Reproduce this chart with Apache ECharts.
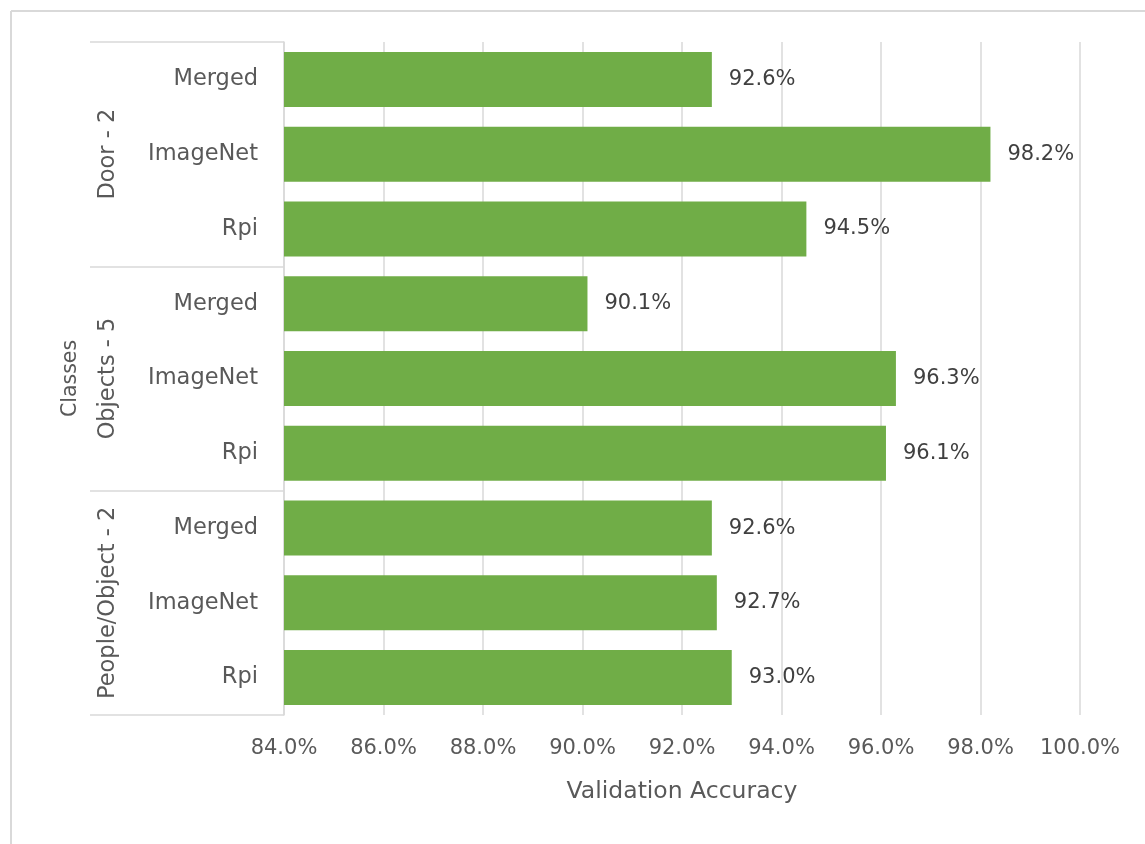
<!DOCTYPE html>
<html>
<head>
<meta charset="utf-8">
<script src="https://cdn.jsdelivr.net/npm/echarts@6/dist/echarts.min.js"></script>
<style>
  html, body { margin: 0; padding: 0; background: #fff; }
  #chart { width: 1145px; height: 844px; }
</style>
</head>
<body>
<div id="chart"></div>
<script>
// categories, top to bottom
const groups = ['Door - 2', 'Objects - 5', 'People/Object - 2'];
const models = ['Merged', 'ImageNet', 'Rpi',
                'Merged', 'ImageNet', 'Rpi',
                'Merged', 'ImageNet', 'Rpi'];
// validation accuracy, percent
const accuracy = [92.6, 98.2, 94.5,
                  90.1, 96.3, 96.1,
                  92.6, 92.7, 93.0];
const xTicks = { min: 84, max: 100, step: 2 };

const font = 'DejaVu Sans';
const grey = '#595959';
const lineGrey = '#d9d9d9';

function getOption() {
    let option = {
        animation: false,
        textStyle: { fontFamily: font },
        grid: { left: 284, right: 65, top: 42, bottom: 129 },
        xAxis: {
            type: 'value',
            min: xTicks.min,
            max: xTicks.max,
            interval: xTicks.step,
            name: 'Validation Accuracy',
            nameLocation: 'middle',
            nameGap: 65,
            nameTextStyle: { fontSize: 23.5, color: grey, fontFamily: font },
            axisLine: { show: false },
            axisTick: { show: false },
            splitLine: { lineStyle: { color: lineGrey, width: 1.5 } },
            axisLabel: {
                fontSize: 21,
                color: grey,
                margin: 23,
                fontFamily: font,
                formatter: v => v.toFixed(1) + '%'
            }
        },
        yAxis: [{
            type: 'category',
            data: models,
            inverse: true,
            axisLine: { show: false },
            axisTick: { show: false },
            axisLabel: { fontSize: 22.5, color: grey, margin: 26, fontFamily: font }
        }, {
            type: 'category',
            data: groups,
            inverse: true,
            position: 'left',
            name: 'Classes',
            nameLocation: 'middle',
            nameGap: 203,
            nameRotate: 90,
            nameTextStyle: { fontSize: 20.5, color: grey, fontFamily: font },
            axisLine: { show: true, lineStyle: { color: lineGrey, width: 1.5 } },
            axisTick: { show: true, length: 194, interval: 0, lineStyle: { color: lineGrey, width: 1.5 } },
            axisLabel: { fontSize: 22.5, color: grey, rotate: 90, margin: 164, interval: 0, fontFamily: font }
        }]
    };
    option.series = [{
        type: 'bar',
        yAxisIndex: 0,
        data: accuracy,
        barWidth: 55,
        itemStyle: { color: '#70ad47' },
        label: {
            show: true,
            position: 'right',
            distance: 17,
            fontSize: 21,
            color: '#404040',
            fontFamily: font,
            formatter: p => p.value.toFixed(1) + '%'
        }
    }];
    // sheet frame behind the chart
    option.graphic = [
        { type: 'line', shape: { x1: 11, y1: 11, x2: 1145, y2: 11 }, style: { stroke: '#d9d9d9', lineWidth: 2 } },
        { type: 'line', shape: { x1: 11, y1: 11, x2: 11, y2: 844 }, style: { stroke: '#d9d9d9', lineWidth: 2 } }
    ];
    return option;
}

const myChart = echarts.init(document.getElementById('chart'));
myChart.setOption(getOption());
</script>
</body>
</html>
